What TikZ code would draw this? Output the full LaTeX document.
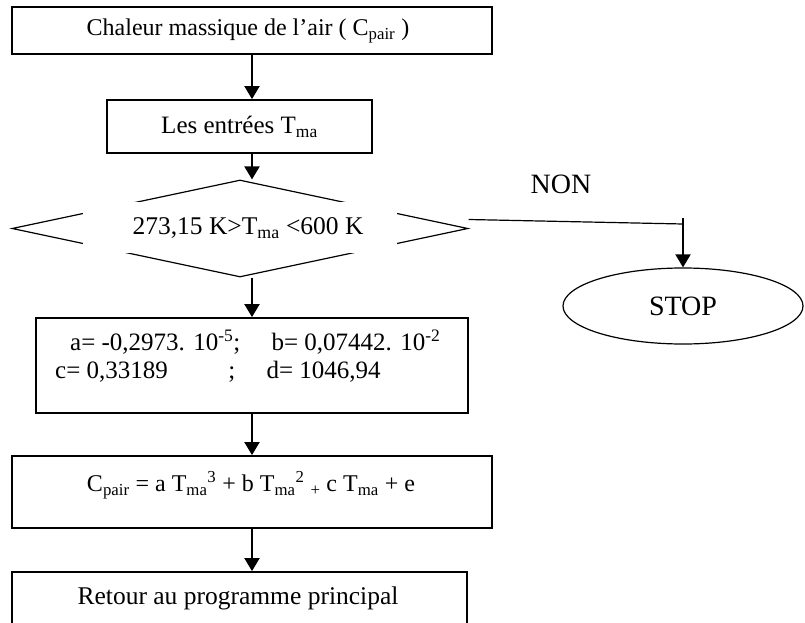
\documentclass[tikz,border=0pt]{standalone}
\usepackage{fontspec}
\setmainfont{Liberation Serif}
\usetikzlibrary{arrows.meta,shapes.geometric}
\tikzset{
  boite/.style={draw,line width=1.8pt,inner sep=0pt},
  fleche/.style={line width=2pt,-{Triangle[length=13pt,width=15pt]}},
  txt/.style={inner sep=0pt,font=\fontsize{25}{28}\selectfont},
}
\begin{document}
\begin{tikzpicture}[x=1pt,y=-1pt]
			\clip (0,0) rectangle (805,623);
			\useasboundingbox (0,0) rectangle (805,623);
			% boites
			\node[boite,minimum width=480,minimum height=47] (chaleur) at (252,30.5) {};
			\node[txt,font=\fontsize{24}{28}\selectfont] (chaleurtxt) at (248,31) {Chaleur massique de l’air ( C\textsubscript{pair} )};
			\node[boite,minimum width=265,minimum height=53] (entrees) at (239.5,126.5) {};
			\node[txt] (entreestxt) at (239.5,127) {Les entrées T\textsubscript{ma}};
			\node[draw,diamond,line width=1.2pt,inner sep=0pt,minimum width=456,minimum height=97] (test) at (240,228.5) {};
			\node[fill=white,inner sep=0pt,minimum width=314,minimum height=51] (masque) at (240,227.5) {};
			\node[txt,font=\fontsize{25.5}{28}\selectfont] (testtxt) at (248,228) {273,15 K>T\textsubscript{ma} <600 K};
			\node[boite,minimum width=432,minimum height=95] (coef) at (252,365.5) {};
			\node[txt,align=left,anchor=west] (coeftxt) at (55,356) {\hspace*{15pt}a= -0,2973. 10\textsuperscript{-5}; \quad b= 0,07442. 10\textsuperscript{-2}\\
				c= 0,33189 \hspace{48pt} ; \quad d= 1046,94};
			\node[boite,minimum width=480,minimum height=72] (formule) at (252,492) {};
			\node[txt,font=\fontsize{24}{28}\selectfont] (formuletxt) at (251,485) {C\textsubscript{pair} = a T\textsubscript{ma}\textsuperscript{3} + b T\textsubscript{ma}\textsuperscript{2} \textsubscript{+} c T\textsubscript{ma} + e};
			\node[boite,minimum width=455,minimum height=70] (retour) at (239.5,607) {};
			\node[txt,font=\fontsize{25.5}{28}\selectfont] (retourtxt) at (238,598) {Retour au programme principal};
			\node[draw,ellipse,line width=1.2pt,inner sep=0pt,minimum width=240,minimum height=76] (stop) at (683,306) {};
			\node[txt,font=\fontsize{28}{32}\selectfont] (stoptxt) at (683,306) {STOP};
			\node[txt,font=\fontsize{28}{32}\selectfont] (non) at (561,184) {NON};
			\coordinate (coude) at (683,224);
			% fleches
			\draw[fleche] (chaleur.south) -- (chaleur.south |- entrees.north);
			\draw[fleche] (chaleur.south |- entrees.south) -- (chaleur.south |- test.north);
			\draw[fleche] (chaleur.south |- test.south) -- (coef.north);
			\draw[fleche] (coef.south) -- (formule.north);
			\draw[fleche] (formule.south) -- (formule.south |- retour.north);
			\draw[line width=1.2pt] ([yshift=9pt]test.east) -- (coude);
			\draw[fleche] ([yshift=6pt]coude) -- (stop.north);
		\end{tikzpicture}
\end{document}
